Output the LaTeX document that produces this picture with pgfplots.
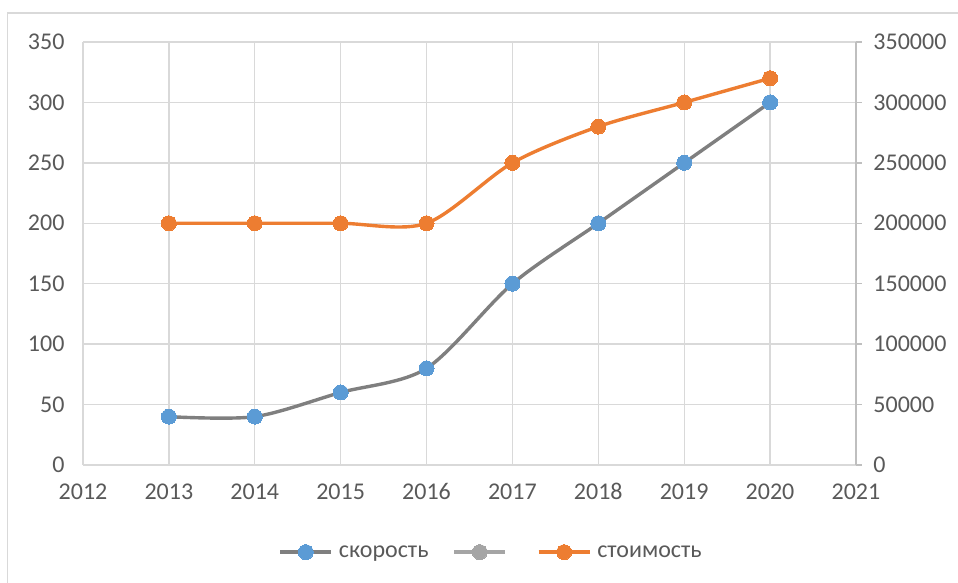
\documentclass[border=0pt]{standalone}
\usepackage{fontspec}
\setmainfont{Carlito}
\usepackage{pgfplots}
\pgfplotsset{compat=1.18}
\definecolor{xgrid}{HTML}{D9D9D9}
\definecolor{xaxis}{HTML}{BFBFBF}
\definecolor{xtext}{HTML}{595959}
\definecolor{xblue}{HTML}{5B9BD5}
\definecolor{xorange}{HTML}{ED7D31}
\definecolor{xgray}{HTML}{7F7F7F}
\definecolor{xlgray}{HTML}{A5A5A5}
\pgfplotstableread{
year speed
2013 40
2014 40
2015 60
2016 80
2017 150
2018 200
2019 250
2020 300
}\speedtable
\pgfplotstableread{
year cost
2013 200000
2014 200000
2015 200000
2016 200000
2017 250000
2018 280000
2019 300000
2020 320000
}\costtable
\begin{document}
\begin{tikzpicture}
\useasboundingbox (0bp,0bp) rectangle (958bp,583bp);
\draw[xgrid, line width=1.5bp] (7.5bp,0bp) -- (7.5bp,570bp) -- (958bp,570bp);
\pgfplotsset{
  common/.style={
    at={(83bp,118bp)}, anchor=south west,
    scale only axis, width=773bp, height=423bp,
    xmin=2012, xmax=2021,
    tick label style={font=\fontsize{24bp}{28bp}\selectfont, text=xtext},
    /pgf/number format/fixed,
    /pgf/number format/assume math mode=true,
    /pgf/number format/set thousands separator={},
    legend image code/.code={\draw[mark repeat=2,mark phase=2] plot coordinates {(0bp,0bp)(25.5bp,0bp)(51bp,0bp)};},
  }
}
\begin{axis}[common,
  ymin=0, ymax=350,
  xtick={2012,...,2021}, ytick={0,50,...,350},
  xmajorgrids, ymajorgrids, grid style={xgrid, line width=1.3bp},
  axis x line*=bottom, axis y line*=left,
  axis line style={xgrid, line width=1.3bp},
  major tick length=0bp,
  xticklabel style={yshift=-15bp},
  yticklabel style={xshift=-15bp},
]
\addplot[xgray, line width=3.4bp, smooth, tension=0.5, mark=*, mark size=7.5bp, mark options={fill=xblue, draw=xblue, line width=0bp}] table[x=year,y=speed] {\speedtable};
\end{axis}
\begin{axis}[common,
  ymin=0, ymax=350000,
  axis x line=none, axis y line*=right,
  ytick={0,50000,...,350000},
  scaled y ticks=false,
  axis line style={xaxis, line width=1.3bp},
  tick style={xaxis, line width=1.3bp},
  major tick length=6bp, tick align=outside,
  yticklabel style={xshift=8bp},
  legend columns=3,
  legend style={at={(0.528,-0.206)}, anchor=center, draw=none, fill=none,
    font=\fontsize{24bp}{28bp}\selectfont, text=xtext,
    /tikz/every odd column/.append style={column sep=4bp},
    /tikz/every even column/.append style={column sep=22bp}},
]
\addlegendimage{xgray, line width=3.4bp, mark=*, mark size=7.5bp, mark options={fill=xblue, draw=xblue, line width=0bp}}
\addlegendentry{скорость}
\addlegendimage{xlgray, line width=3.4bp, mark=*, mark size=7.5bp, mark options={fill=xlgray, draw=xlgray, line width=0bp}}
\addlegendentry{}
\addplot[xorange, line width=3.4bp, smooth, tension=0.5, mark=*, mark size=7.5bp, mark options={fill=xorange, draw=xorange, line width=0bp}] table[x=year,y=cost] {\costtable};
\addlegendentry{стоимость}
\end{axis}
\end{tikzpicture}
\end{document}
